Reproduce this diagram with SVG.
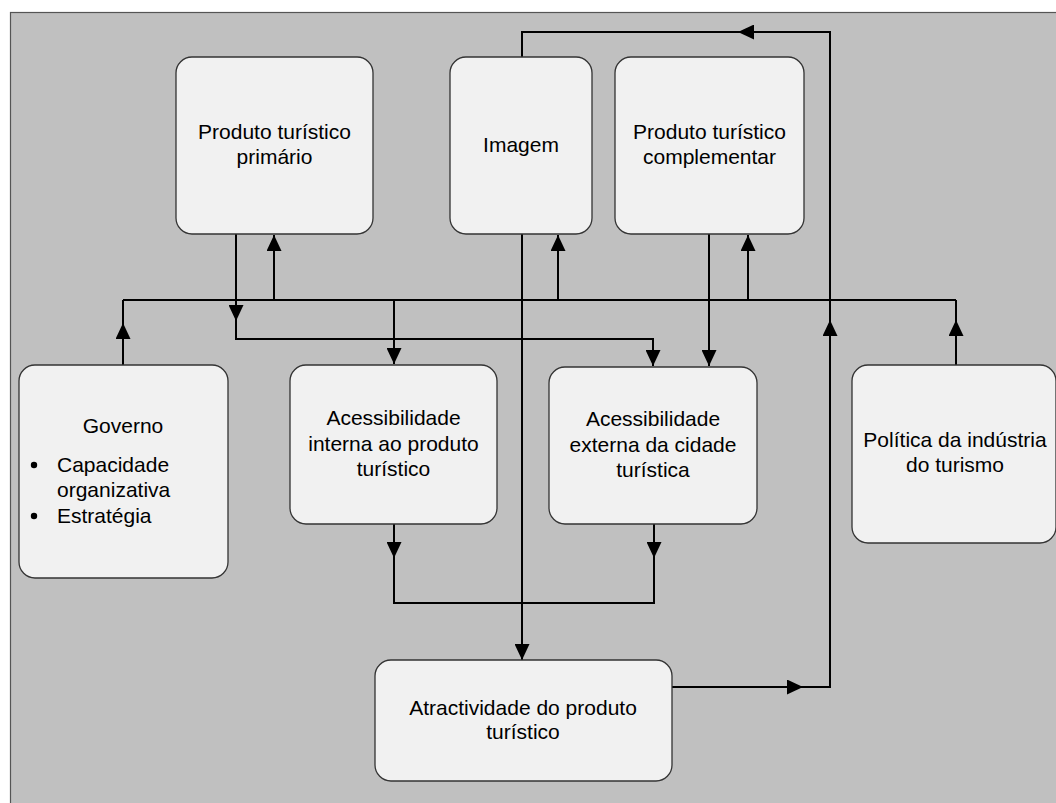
<svg xmlns="http://www.w3.org/2000/svg" width="1056" height="803" viewBox="0 0 1056 803">
  <style>
    .box { fill: #f1f1f1; stroke: #333; stroke-width: 1.3; }
    .lbl { font-family: "Liberation Sans", Arial, sans-serif; font-size: 21px; fill: #000; text-anchor: middle; }
    .lft { text-anchor: start; }
    .ln { fill: none; stroke: #000; stroke-width: 2; }
    .arr { fill: none; stroke: #000; stroke-width: 2; marker-end: url(#ah); }
  </style>
  <defs>
    <marker id="ah" viewBox="0 0 16 15" refX="16" refY="7.5" markerWidth="16" markerHeight="15" markerUnits="userSpaceOnUse" orient="auto">
      <path d="M0,0 L16,7.5 L0,15 z" fill="#000"/>
    </marker>
  </defs>

  <!-- background panel -->
  <rect x="10.5" y="12.5" width="1060" height="800" fill="#c0c0c0" stroke="#555" stroke-width="1.2"/>

  <!-- connectors -->
  <g id="connectors">
    <!-- shared bus -->
    <path class="ln" d="M123,300 H956"/>
    <!-- Governo up to bus -->
    <path class="arr" d="M123,365 V323"/>
    <path class="ln" d="M123,323 V300"/>
    <!-- Política up to bus -->
    <path class="arr" d="M956,365 V320"/>
    <path class="ln" d="M956,320 V300"/>
    <!-- bus up to top boxes -->
    <path class="arr" d="M274,300 V235"/>
    <path class="arr" d="M558,300 V235"/>
    <path class="arr" d="M748,300 V235"/>
    <!-- bus down to acessibilidade interna -->
    <path class="arr" d="M394,300 V364"/>
    <!-- primário down to acessibilidade externa -->
    <path class="arr" d="M236,234 V321"/>
    <path class="arr" d="M236,321 V339 H653 V366"/>
    <!-- complementar down to acessibilidade externa -->
    <path class="arr" d="M709,234 V366"/>
    <!-- acessibilidade boxes down to join -->
    <path class="arr" d="M394,524 V558"/>
    <path class="arr" d="M654,524 V558"/>
    <path class="ln" d="M394,558 V603 H654 V558"/>
    <!-- imagem down to atractividade -->
    <path class="arr" d="M522,234 V660"/>
    <!-- feedback loop from atractividade back to imagem -->
    <path class="arr" d="M672,687 H803"/>
    <path class="arr" d="M803,687 H830 V320"/>
    <path class="arr" d="M830,320 V32 H738"/>
    <path class="ln" d="M738,32 H522 V57"/>
  </g>

  <g id="produto-primario">
    <rect class="box" x="176" y="57" width="197" height="177" rx="16"/>
    <text class="lbl" x="274.5" y="139">Produto turístico</text>
    <text class="lbl" x="274.5" y="164">primário</text>
  </g>

  <g id="imagem">
    <rect class="box" x="450" y="57" width="142" height="177" rx="16"/>
    <text class="lbl" x="521" y="152">Imagem</text>
  </g>

  <g id="produto-complementar">
    <rect class="box" x="615" y="57" width="189" height="177" rx="16"/>
    <text class="lbl" x="709.5" y="139">Produto turístico</text>
    <text class="lbl" x="709.5" y="164">complementar</text>
  </g>

  <g id="governo">
    <rect class="box" x="19" y="365" width="209" height="213" rx="16"/>
    <text class="lbl" x="123" y="433">Governo</text>
    <circle cx="34" cy="465" r="3.2" fill="#000"/>
    <text class="lbl lft" x="57" y="472">Capacidade</text>
    <text class="lbl lft" x="57" y="497">organizativa</text>
    <circle cx="34" cy="516" r="3.2" fill="#000"/>
    <text class="lbl lft" x="57" y="523">Estratégia</text>
  </g>

  <g id="acessibilidade-interna">
    <rect class="box" x="290" y="365" width="207" height="159" rx="16"/>
    <text class="lbl" x="393.5" y="425">Acessibilidade</text>
    <text class="lbl" x="393.5" y="451">interna ao produto</text>
    <text class="lbl" x="393.5" y="476">turístico</text>
  </g>

  <g id="acessibilidade-externa">
    <rect class="box" x="549" y="367" width="208" height="157" rx="16"/>
    <text class="lbl" x="653" y="426">Acessibilidade</text>
    <text class="lbl" x="653" y="452">externa da cidade</text>
    <text class="lbl" x="653" y="477">turística</text>
  </g>

  <g id="politica">
    <rect class="box" x="852" y="365" width="204" height="178" rx="16"/>
    <text class="lbl" x="955" y="447">Política da indústria</text>
    <text class="lbl" x="955" y="472">do turismo</text>
  </g>

  <g id="atractividade">
    <rect class="box" x="375" y="660" width="297" height="121" rx="16"/>
    <text class="lbl" x="523" y="715">Atractividade do produto</text>
    <text class="lbl" x="523" y="739">turístico</text>
  </g>
</svg>
